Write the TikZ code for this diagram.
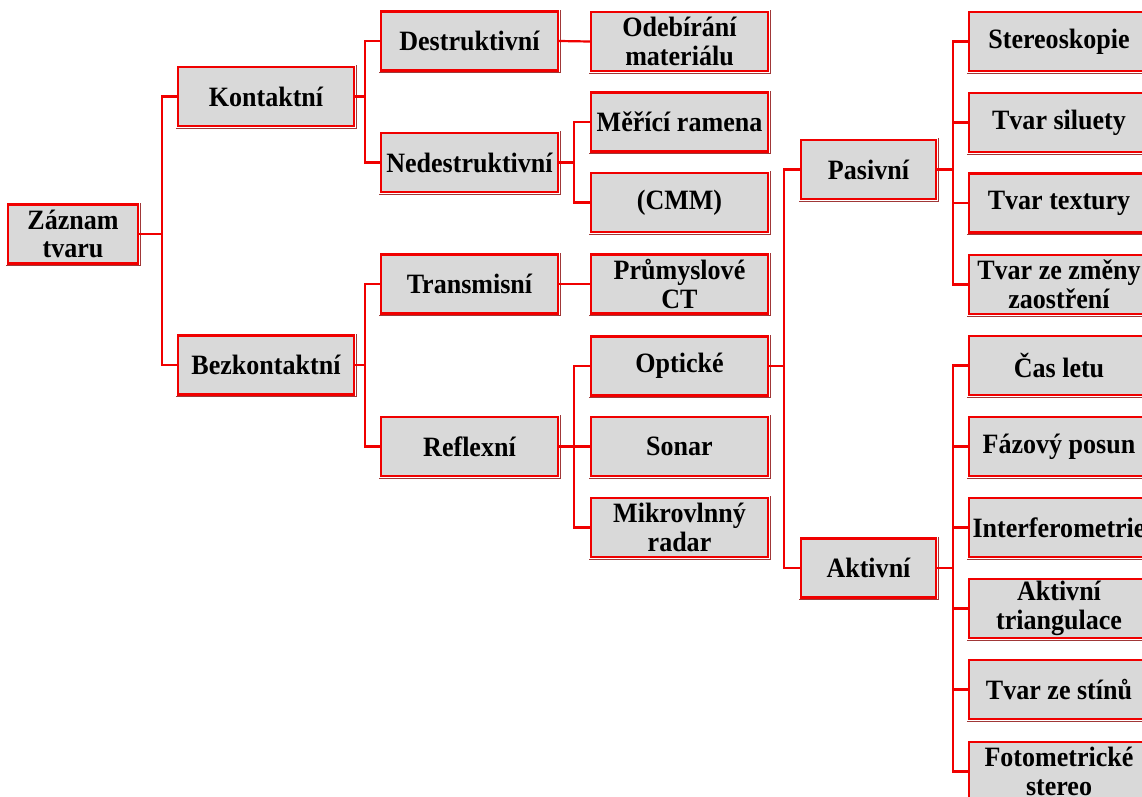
\documentclass[tikz,border=0pt]{standalone}
\usepackage{fontspec}
\setmainfont{Liberation Serif}[FakeStretch=0.93]
\usetikzlibrary{calc}
\definecolor{boxfill}{HTML}{D9D9D9}
\definecolor{linered}{HTML}{F00000}
\definecolor{shadowgray}{HTML}{A03838}
\tikzset{
  box/.style={draw=linered, line width=2.4pt, fill=boxfill, rectangle,
    minimum height=59pt, inner sep=0pt, align=center, text=black,
    font=\fontsize{28}{28.5}\selectfont\bfseries},
  wA/.style={minimum width=130pt},
  wB/.style={minimum width=176pt},
  wC/.style={minimum width=177pt},
  wD/.style={minimum width=135pt},
  wE/.style={minimum width=180pt},
  conn/.style={draw=linered, line width=2.2pt},
  shade line/.style={draw=shadowgray, line width=0.8pt},
}
\begin{document}
\begin{tikzpicture}[x=1pt,y=-1pt]
\clip (0,0) rectangle (1142,796);
\fill[white] (0,0) rectangle (1142,796);
% trunk coordinates
\coordinate (t1) at (162,0);
\coordinate (t2) at (365,0);
\coordinate (t3) at (574,0);
\coordinate (t4) at (784,0);
\coordinate (t5) at (953,0);
% nodes
\node[box,wA] (root) at (73,234) {Záznam\\tvaru};
\node[box,wB] (kon) at (266,96.5) {Kontaktní};
\node[box,wB] (bez) at (266,365) {Bezkontaktní};
\node[box,wC] (des) at (469.5,41) {Destruktivní};
\node[box,wC] (ned) at (469.5,162.5) {Nedestruktivní};
\node[box,wC] (tra) at (469.5,284) {Transmisní};
\node[box,wC] (ref) at (469.5,446.5) {Reflexní};
\node[box,wC] (ode) at (679.5,41.5) {Odebírání\\materiálu};
\node[box,wC] (mer) at (679.5,122) {Měřící ramena};
\node[box,wC] (cmm) at (679.5,202.5) {(CMM)};
\node[box,wC] (pru) at (679.5,284) {Průmyslové\\CT};
\node[box,wC] (opt) at (679.5,366) {Optické};
\node[box,wC] (son) at (679.5,446.5) {Sonar};
\node[box,wC] (mik) at (679.5,527.5) {Mikrovlnný\\radar};
\node[box,wD] (pas) at (868.5,169.5) {Pasivní};
\node[box,wD] (akt) at (868.5,568) {Aktivní};
\node[box,wE] (ste) at (1059,41.5) {Stereoskopie};
\node[box,wE] (sil) at (1059,122.5) {Tvar siluety};
\node[box,wE] (tex) at (1059,203) {Tvar textury};
\node[box,wE] (zao) at (1059,284.5) {Tvar ze změny\\zaostření};
\node[box,wE] (cas) at (1059,365.5) {Čas letu};
\node[box,wE] (faz) at (1059,446.5) {Fázový posun};
\node[box,wE] (int) at (1059,527.5) {Interferometrie};
\node[box,wE] (tri) at (1059,608.5) {Aktivní\\triangulace};
\node[box,wE] (sti) at (1059,689.5) {Tvar ze stínů};
\node[box,wE] (fot) at (1059,771.5) {Fotometrické\\stereo};
% darker outer half of the border along bottom and right of each box
\foreach \n in {root,kon,bez,des,ned,tra,ref,ode,mer,cmm,pru,opt,son,mik,pas,akt,ste,sil,tex,zao,cas,faz,int,tri,sti,fot}
  {\draw[shade line] ($(\n.south west)+(-0.4,0.8)$) -- ($(\n.south east)+(0.8,0.8)$) -- ($(\n.north east)+(0.8,-0.4)$);}
% connectors
\foreach \p/\t/\c in {root/t1/kon, root/t1/bez, kon/t2/des, kon/t2/ned, bez/t2/tra, bez/t2/ref,
  ned/t3/mer, ned/t3/cmm, ref/t3/opt, ref/t3/son, ref/t3/mik,
  opt/t4/pas, opt/t4/akt,
  pas/t5/ste, pas/t5/sil, pas/t5/tex, pas/t5/zao,
  akt/t5/cas, akt/t5/faz, akt/t5/int, akt/t5/tri, akt/t5/sti, akt/t5/fot}
  {\draw[conn] (\p.east) -- (\p.east -| \t) |- (\c.west);}
\draw[conn] (des.east) -- (ode.west);
\draw[conn] (tra.east) -- (pru.west);
\end{tikzpicture}
\end{document}
